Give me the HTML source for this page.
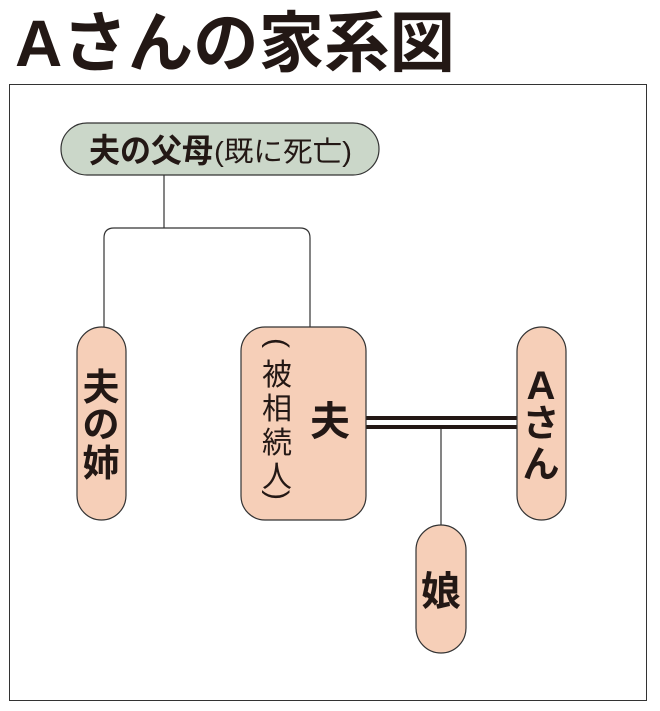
<!DOCTYPE html>
<html><head><meta charset="utf-8"><style>
html,body{margin:0;padding:0;background:#fff;}
svg{display:block}
</style></head><body>
<svg width="660" height="711" viewBox="0 0 660 711" xmlns="http://www.w3.org/2000/svg" font-family="'Liberation Sans','Noto Sans CJK JP',sans-serif">
<text x="15" y="66" font-size="66" font-weight="bold" fill="#231815" textLength="440" lengthAdjust="spacingAndGlyphs">Aさんの家系図</text>
<rect x="9.5" y="84.5" width="637" height="616" fill="none" stroke="#333" stroke-width="1"/>
<rect x="61" y="123" width="318" height="52" rx="26" fill="#cbd7c9" stroke="#333" stroke-width="1.2"/>
<text x="89" y="162" font-size="33" font-weight="bold" fill="#231815" textLength="124" lengthAdjust="spacingAndGlyphs">夫の父母</text>
<text x="214" y="161" font-size="28" fill="#231815" textLength="138" lengthAdjust="spacingAndGlyphs">(既に死亡)</text>
<g stroke="#333" stroke-width="1.2" fill="none">
<line x1="164" y1="175" x2="164" y2="228"/>
<path d="M104 327 V238 Q104 228 114 228 H300 Q310 228 310 238 V327"/>
<line x1="441" y1="429" x2="441" y2="525"/>
</g>
<rect x="366" y="416" width="151" height="4" fill="#231815"/>
<rect x="366" y="425" width="151" height="4" fill="#231815"/>
<rect x="77" y="327" width="49" height="193" rx="24.5" fill="#f6cfb8" stroke="#333" stroke-width="1.2"/>
<rect x="241" y="327" width="125" height="193" rx="24" fill="#f6cfb8" stroke="#333" stroke-width="1.2"/>
<rect x="517" y="327" width="49" height="193" rx="24.5" fill="#f6cfb8" stroke="#333" stroke-width="1.2"/>
<rect x="416" y="525" width="50" height="128" rx="25" fill="#f6cfb8" stroke="#333" stroke-width="1.2"/>
<g font-weight="bold" fill="#231815" text-anchor="middle">
<text x="101" y="400" font-size="37">夫</text>
<text x="101" y="437" font-size="37">の</text>
<text x="101" y="476" font-size="37">姉</text>
<text x="330" y="435" font-size="40">夫</text>
<text x="541" y="399" font-size="40">A</text>
<text x="541" y="436" font-size="37">さ</text>
<text x="541" y="477" font-size="37">ん</text>
<text x="441" y="605" font-size="40">娘</text>
</g>
<g fill="#231815" text-anchor="middle" font-size="30">
<text x="277" y="352" transform="rotate(90 277 343)">(</text>
<text x="277" y="385">被</text>
<text x="277" y="419">相</text>
<text x="277" y="453">続</text>
<text x="277" y="487">人</text>
<text x="277" y="504" transform="rotate(90 277 495)">)</text>
</g>
</svg>
</body></html>
